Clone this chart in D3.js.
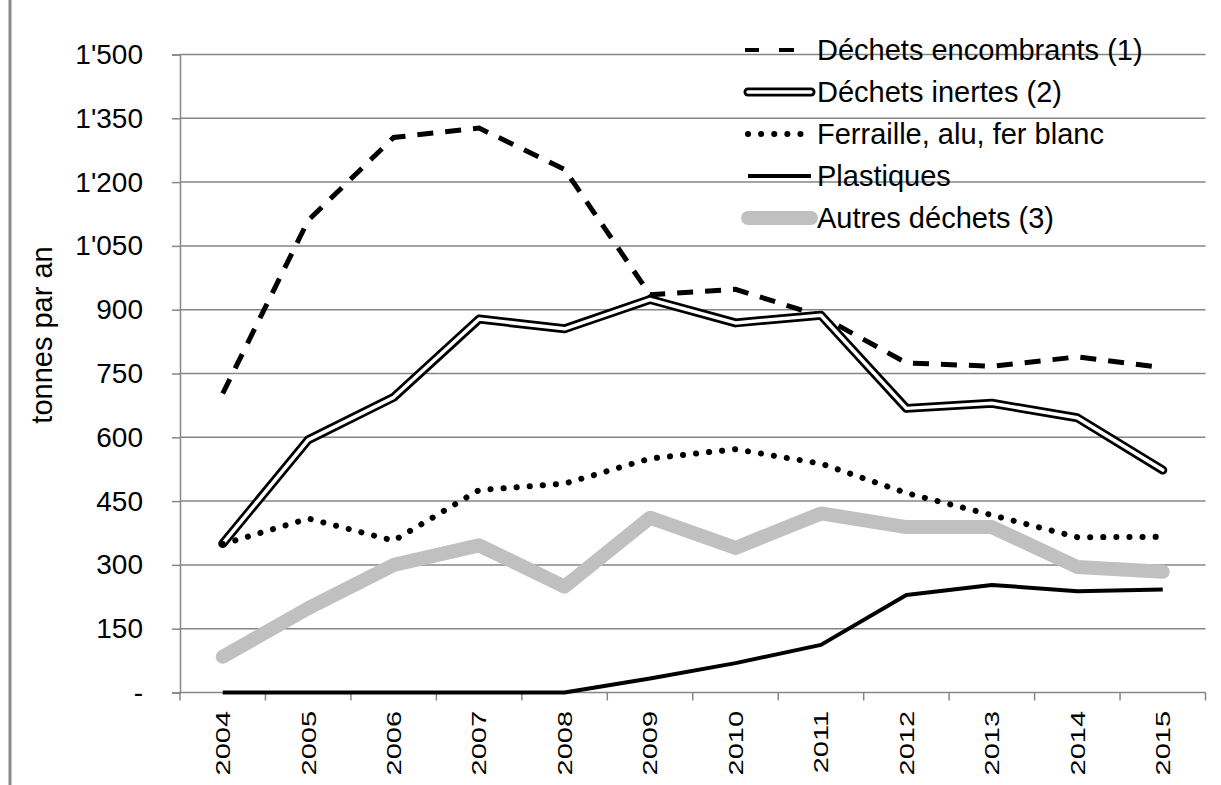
<!DOCTYPE html>
<html>
	<head>
		<meta charset="utf-8">
		<style>
			body {
				margin: 0;
				background: #fff;
			}

			#chart {
				display: block;
				font-family: 'Liberation Sans', Arial, sans-serif;
			}
		</style>
	</head>
	<body>
		<svg id="chart" width="1221" height="785"></svg>
		<script src="https://cdnjs.cloudflare.com/ajax/libs/d3/7.8.5/d3.min.js"></script>

		<script>
			let years = ['2004', '2005', '2006', '2007', '2008', '2009', '2010', '2011', '2012', '2013', '2014', '2015'];
			let yTicks = [0, 150, 300, 450, 600, 750, 900, 1050, 1200, 1350, 1500];

			let encombrants = [703, 1110, 1305, 1327, 1230, 935, 948, 885, 775, 767, 789, 764];
			let inertes = [350, 594, 694, 878, 855, 924, 869, 887, 668, 680, 646, 523];
			let ferraille = [349, 409, 357, 476, 491, 550, 572, 538, 469, 417, 365, 366];
			let plastiques = [0, 0, 0, 0, 0, 33, 69, 112, 229, 253, 238, 242];
			let autres = [84, 198, 300, 346, 249, 411, 340, 421, 389, 389, 295, 284];

			let names = [
				'Déchets encombrants (1)',
				'Déchets inertes (2)',
				'Ferraille, alu, fer blanc',
				'Plastiques',
				'Autres déchets (3)',
			];

			let series = [
				{ name: names[0], values: encombrants, style: 'dash' },
				{ name: names[1], values: inertes, style: 'double' },
				{ name: names[2], values: ferraille, style: 'dot' },
				{ name: names[3], values: plastiques, style: 'solid' },
				{ name: names[4], values: autres, style: 'gray' },
			];

			let plot = { left: 180, right: 1205.5, top: 54.5, bottom: 692.5 };
			let gridColor = '#868686';

			let svg = d3.select('#chart');

			let x = d3.scaleBand().domain(years).range([plot.left, plot.right]);
			let y = d3.scaleLinear().domain([0, 1500]).range([plot.bottom, plot.top]);

			// left border of the chart area
			svg.append('line')
				.attr('x1', 10).attr('x2', 10)
				.attr('y1', 0).attr('y2', 785)
				.attr('stroke', '#8a8a8a')
				.attr('stroke-width', 3);

			// gridlines
			svg.append('g')
				.selectAll('line')
				.data(yTicks.filter(d => d > 0))
				.join('line')
				.attr('x1', plot.left).attr('x2', plot.right)
				.attr('y1', d => y(d)).attr('y2', d => y(d))
				.attr('stroke', gridColor)
				.attr('stroke-width', 1.5);

			// y axis
			let fmt = v => v === 0 ? '-' : d3.format(',')(v).replace(',', "'");
			let yAxis = svg.append('g')
				.attr('transform', `translate(${plot.left},0)`)
				.call(d3.axisLeft(y).tickValues(yTicks).tickSize(8).tickPadding(29).tickFormat(fmt));
			yAxis.selectAll('path, line').attr('stroke', gridColor).attr('stroke-width', 1.5);
			yAxis.selectAll('text')
				.attr('font-size', 28)
				.attr('font-family', "'Liberation Sans', Arial, sans-serif")
				.attr('fill', '#000');

			// x axis, ticks between categories
			let bounds = years.map(d => x(d)).concat([plot.right]);
			svg.append('line')
				.attr('x1', plot.left).attr('x2', plot.right)
				.attr('y1', plot.bottom).attr('y2', plot.bottom)
				.attr('stroke', gridColor).attr('stroke-width', 1.5);
			svg.append('g')
				.selectAll('line')
				.data(bounds)
				.join('line')
				.attr('x1', d => d).attr('x2', d => d)
				.attr('y1', plot.bottom).attr('y2', plot.bottom + 8)
				.attr('stroke', gridColor).attr('stroke-width', 1.5);

			svg.append('g')
				.selectAll('text')
				.data(years)
				.join('text')
				.attr('transform', d => `translate(${x(d) + x.bandwidth() / 2},711) rotate(-90) scale(1.38,1)`)
				.attr('text-anchor', 'end')
				.attr('dy', '0.35em')
				.attr('font-size', 21)
				.text(d => d);

			// y axis title
			svg.append('text')
				.attr('transform', 'translate(52,335) rotate(-90)')
				.attr('text-anchor', 'middle')
				.attr('font-size', 29)
				.text('tonnes par an');

			// one style per series, used for plot and legend
			function stroke(g, d, style, inLegend) {
				let p = () => g.append('path').attr('d', d).attr('fill', 'none');
				if (style === 'dash') {
					p().attr('stroke', '#000')
						.attr('stroke-width', inLegend ? 4 : 5)
						.attr('stroke-dasharray', inLegend ? null : '16,12');
				} else if (style === 'double') {
					p().attr('stroke', '#000').attr('stroke-width', 9)
						.attr('stroke-linejoin', 'round').attr('stroke-linecap', 'round');
					p().attr('stroke', '#fff').attr('stroke-width', 3.5)
						.attr('stroke-linejoin', 'round').attr('stroke-linecap', 'round');
				} else if (style === 'dot') {
					p().attr('stroke', '#000').attr('stroke-width', 6)
						.attr('stroke-linecap', 'round').attr('stroke-dasharray', '0.1,13');
				} else if (style === 'solid') {
					p().attr('stroke', '#000').attr('stroke-width', 4)
						.attr('stroke-linejoin', 'round');
				} else {
					p().attr('stroke', '#c0c0c0').attr('stroke-width', 14)
						.attr('stroke-linejoin', 'round').attr('stroke-linecap', 'round');
				}
			}

			let line = d3.line()
				.x((d, i) => x(years[i]) + x.bandwidth() / 2)
				.y(d => y(d));

			series.forEach(s => {
				stroke(svg.append('g'), line(s.values), s.style, false);
			});

			// legend
			let legend = { x0: 745, x1: 815, top: 50, step: 42 };
			series.forEach((s, i) => {
				let ly = legend.top + i * legend.step;
				let path = s.style === 'dash'
					? `M${legend.x0},${ly}L${legend.x0 + 14},${ly}M${legend.x0 + 34},${ly}L${legend.x0 + 49},${ly}`
					: `M${legend.x0 + 3},${ly}L${legend.x1 - 4},${ly}`;
				stroke(svg.append('g'), path, s.style, true);
				svg.append('text')
					.attr('x', legend.x1 + 2)
					.attr('y', ly)
					.attr('dy', '0.35em')
					.attr('font-size', 29)
					.text(s.name);
			});
		</script>
	</body>
</html>
